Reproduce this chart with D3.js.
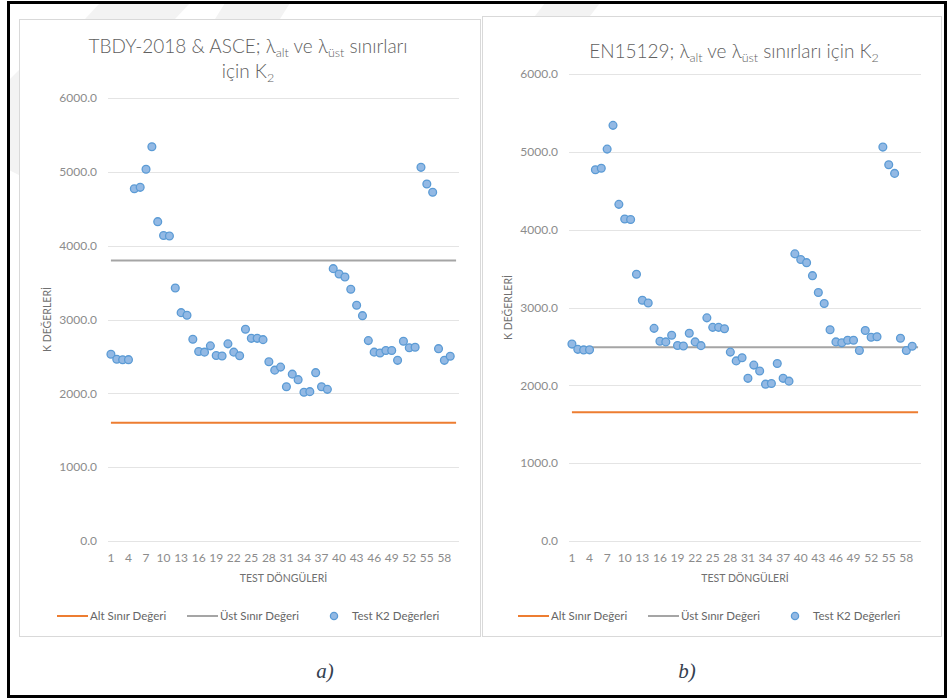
<!DOCTYPE html>
<html lang="tr">
<head>
<meta charset="utf-8" />
<title>K2 değerleri</title>
<script src="https://d3js.org/d3.v7.min.js"></script>
<style>
  body { margin: 0; background: #fff; }
  svg { display: block; font-family: Lato, "Open Sans", sans-serif; }
  .grid line { stroke: #e4e4e4; stroke-width: 1; }
  .tick-label { fill: #8c8c8c; font-size: 12px; }
  .axis-title { fill: #707070; font-size: 10.5px; }
  .chart-title { fill: #5f5f5f; font-size: 19px; font-weight: 300; }
  .legend text { fill: #666; font-size: 11.5px; }
</style>
</head>
<body>
<svg id="fig" width="950" height="698"></svg>
<script>
// ---- data ----
const cycles = d3.range(1, 61);            // x categories 1..60
const xTickLabels = d3.range(1, 61, 3);    // 1, 4, 7, ... 58
const yTicks = [0, 1000, 2000, 3000, 4000, 5000, 6000];

// Test K2 values, cycles 1..59 (same in both panels)
const testK2 = [
  2530, 2462, 2455, 2456, 4770, 4790, 5035, 5340, 4325, 4137,
  4130, 3427, 3093, 3057, 2732, 2566, 2558, 2643, 2512, 2506,
  2670, 2558, 2510, 2867, 2745, 2745, 2727, 2427, 2314, 2355,
  2090, 2260, 2185, 2015, 2023, 2280, 2090, 2054, 3689, 3616,
  3576, 3409, 3192, 3052, 2714, 2558, 2546, 2580, 2580, 2447,
  2705, 2618, 2625, 5061, 4835, 4723, 2605, 2447, 2503
];

// limit lines (alt / üst)
const limitsA = { alt: 1600, ust: 3800 };
const limitsB = { alt: 1655, ust: 2490 };

const legendLabels = ["Alt Sınır Değeri", "Üst Sınır Değeri", "Test K2 Değerleri"];

const colAlt = "#ED7D31", colUst = "#A5A5A5", colDot = "#5B9BD5";

const svg = d3.select("#fig");

// faint watermark behind the panels
const wm = svg.append("g").attr("fill", "#f3f3f3");
[
  [[100, 3], [190, 3], [175, 19], [85, 19]],
  [[225, 3], [290, 3], [280, 19], [215, 19]],
  [[545, 3], [600, 3], [590, 16], [535, 16]],
  [[9, 80], [19, 70], [19, 175], [9, 170]]
].forEach(p => wm.append("polygon").attr("points", p.map(d => d.join(",")).join(" ")));

// outer frame
svg.append("rect")
  .attr("x", 8.5).attr("y", 2.5).attr("width", 937).attr("height", 694)
  .attr("fill", "none").attr("stroke", "#000").attr("stroke-width", 3);

const panels = [
  { box: [19, 19, 480, 636], plot: [108, 459, 98, 541], limits: limitsA,
    title: [{ y: 53, parts: ["TBDY-2018 & ASCE; λ", "alt", " ve λ", "üst", " sınırları"] },
            { y: 78, parts: ["için K", "2"] }],
    titleX: 248, yTitleX: 47, legendX: 57, caption: "a)", capX: 325 },
  { box: [482, 16, 941, 636], plot: [569, 921, 74, 541], limits: limitsB,
    title: [{ y: 58, parts: ["EN15129; λ", "alt", " ve λ", "üst", " sınırları  için K", "2"] }],
    titleX: 734, yTitleX: 508, legendX: 518, caption: "b)", capX: 687 }
];

panels.forEach(p => {
  const [bx0, by0, bx1, by1] = p.box;
  const [left, right, top, bottom] = p.plot;
  const g = svg.append("g");

  g.append("rect")
    .attr("x", bx0 + 0.5).attr("y", by0 + 0.5)
    .attr("width", bx1 - bx0).attr("height", by1 - by0)
    .attr("fill", "#fff").attr("stroke", "#d9d9d9");

  const x = d3.scaleBand().domain(cycles).range([left, right]).padding(0);
  const cx = c => x(c) + x.bandwidth() / 2;
  const y = d3.scaleLinear().domain([0, 6000]).range([bottom, top]);

  // gridlines
  g.append("g").attr("class", "grid")
    .selectAll("line").data(yTicks).join("line")
    .attr("x1", left).attr("x2", right)
    .attr("y1", d => Math.round(y(d)) + 0.5).attr("y2", d => Math.round(y(d)) + 0.5);

  // y tick labels
  g.append("g").selectAll("text").data(yTicks).join("text")
    .attr("class", "tick-label")
    .attr("x", left - 11).attr("y", d => y(d)).attr("dy", "0.35em")
    .attr("text-anchor", "end")
    .text(d => d.toFixed(1));

  // x tick labels
  g.append("g").selectAll("text").data(xTickLabels).join("text")
    .attr("class", "tick-label")
    .attr("x", d => cx(d)).attr("y", bottom + 17).attr("dy", "0.35em")
    .attr("text-anchor", "middle")
    .text(d => d);

  // axis titles
  g.append("text").attr("class", "axis-title")
    .attr("x", (left + right) / 2).attr("y", bottom + 37).attr("dy", "0.35em")
    .attr("text-anchor", "middle").text("TEST DÖNGÜLERİ");
  g.append("text").attr("class", "axis-title")
    .attr("transform", `translate(${p.yTitleX},${(top + bottom) / 2}) rotate(-90)`)
    .attr("dy", "0.35em").attr("text-anchor", "middle")
    .text("K DEĞERLERİ");

  // title
  p.title.forEach(line => {
    const t = g.append("text").attr("class", "chart-title")
      .attr("x", p.titleX).attr("y", line.y).attr("text-anchor", "middle");
    line.parts.forEach((s, i) => {
      const sub = i % 2 === 1;
      t.append("tspan")
        .attr("font-size", sub ? "12.5px" : null)
        .attr("dy", sub ? 4 : (i > 0 ? -4 : 0))
        .text(s);
    });
  });

  // limit lines
  const line = d3.line().x(d => cx(d[0])).y(d => y(d[1]));
  const ends = [cycles[0], cycles[cycles.length - 1]];
  g.append("path").attr("d", line(ends.map(c => [c, p.limits.alt])))
    .attr("fill", "none").attr("stroke", colAlt).attr("stroke-width", 2);
  g.append("path").attr("d", line(ends.map(c => [c, p.limits.ust])))
    .attr("fill", "none").attr("stroke", colUst).attr("stroke-width", 2);

  // test points
  g.append("g").selectAll("circle").data(testK2).join("circle")
    .attr("cx", (d, i) => cx(cycles[i])).attr("cy", d => y(d))
    .attr("r", 3.9)
    .attr("fill", "#93b9e4").attr("stroke", colDot).attr("stroke-width", 1.3);

  // legend
  const ly = 616, lx = p.legendX;
  const lg = g.append("g").attr("class", "legend");
  lg.append("line").attr("x1", lx).attr("x2", lx + 31).attr("y1", ly).attr("y2", ly)
    .attr("stroke", colAlt).attr("stroke-width", 2);
  lg.append("text").attr("x", lx + 33).attr("y", ly).attr("dy", "0.35em").text(legendLabels[0]);
  lg.append("line").attr("x1", lx + 130).attr("x2", lx + 161).attr("y1", ly).attr("y2", ly)
    .attr("stroke", colUst).attr("stroke-width", 2);
  lg.append("text").attr("x", lx + 163).attr("y", ly).attr("dy", "0.35em").text(legendLabels[1]);
  lg.append("circle").attr("cx", lx + 277).attr("cy", ly).attr("r", 3.6)
    .attr("fill", "#93b9e4").attr("stroke", colDot).attr("stroke-width", 1.3);
  lg.append("text").attr("x", lx + 295).attr("y", ly).attr("dy", "0.35em").text(legendLabels[2]);

  // caption
  svg.append("text")
    .attr("x", p.capX).attr("y", 671).attr("dy", "0.35em")
    .attr("text-anchor", "middle")
    .attr("font-family", "'Liberation Serif', 'DejaVu Serif', serif")
    .attr("font-style", "italic").attr("font-size", "21px")
    .attr("fill", "#34404f")
    .text(p.caption);
});
</script>
</body>
</html>
